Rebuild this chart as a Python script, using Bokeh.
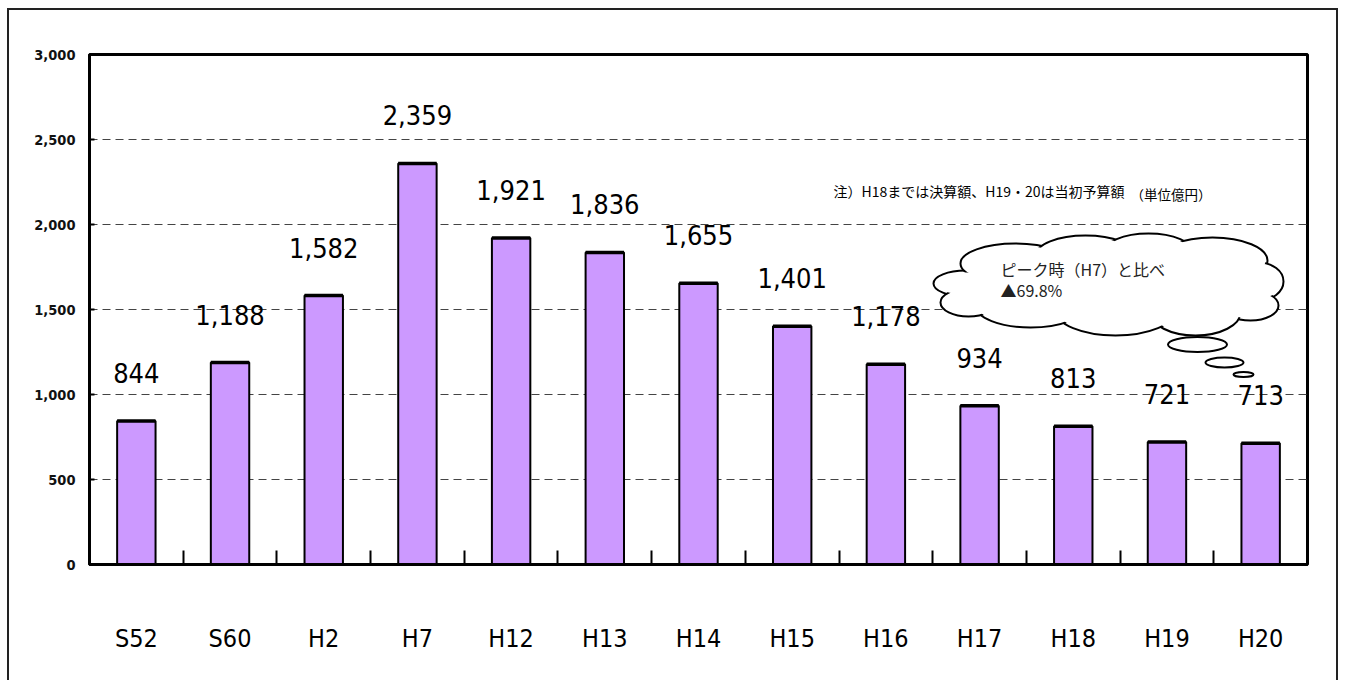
from bokeh.plotting import figure
from bokeh.models import Range1d, FixedTicker, NumeralTickFormatter, ColumnDataSource
from bokeh.core.properties import value
from bokeh.embed import file_html
from bokeh.resources import INLINE

# ---- data ----
categories = ["S52", "S60", "H2", "H7", "H12", "H13", "H14", "H15", "H16", "H17", "H18", "H19", "H20"]
amounts = [844, 1188, 1582, 2359, 1921, 1836, 1655, 1401, 1178, 934, 813, 721, 713]
y_ticks = [0, 500, 1000, 1500, 2000, 2500, 3000]
note_text = "注）H18までは決算額、H19・20は当初予算額"
unit_text = "（単位億円）"
cloud_lines = ["ピーク時（H7）と比べ", "▲69.8%"]

# ---- layout ----
PAGE_L, PAGE_T, BORDER = 7, 8, 2
W, H = 1331, 672
ML, MR, MT, MB = 80, 33, 44, 118
FW = W - ML - MR
FH = H - MT - MB
N = len(categories)
Y_MAX = 3000
FRAME_L = PAGE_L + BORDER + ML
FRAME_B = PAGE_T + BORDER + MT + FH

def px_x(px):
    return (px - FRAME_L) / FW * N

def px_y(py):
    return (FRAME_B - py) / FH * Y_MAX

NARROW = "DejaVu Sans Condensed"
JP = "Noto Sans CJK JP"

p = figure(width=W, height=H, output_backend="svg", toolbar_location=None,
           x_range=Range1d(0, N), y_range=Range1d(0, Y_MAX),
           min_border_left=ML, min_border_right=MR, min_border_top=MT, min_border_bottom=MB,
           background_fill_color="white", border_fill_color="white")
p.styles = {"margin-left": f"{PAGE_L}px", "margin-top": f"{PAGE_T}px",
            "border-top": "2px solid #222", "border-left": "2px solid #222",
            "border-right": "2px solid #222"}

p.outline_line_color = "black"
p.outline_line_width = 3

xs = [i + 0.5 for i in range(N)]
bar_w = 0.41
src = ColumnDataSource(dict(x=xs, top=amounts, cat=categories,
                            x0=[x - bar_w / 2 for x in xs], x1=[x + bar_w / 2 for x in xs],
                            label=[f"{v:,}" for v in amounts]))

# grid
p.xgrid.visible = False
p.ygrid.ticker = FixedTicker(ticks=y_ticks[1:-1])
p.ygrid.grid_line_color = "#444444"
p.ygrid.grid_line_dash = "8 5"
p.ygrid.grid_line_width = 1

# bars
p.vbar(x="x", top="top", bottom=0, width=bar_w, source=src,
       fill_color="#CC99FF", line_color="black", line_width=2)
p.segment(x0="x0", x1="x1", y0="top", y1="top", source=src, line_color="black", line_width=3.5)

# value labels
p.text(x="x", y="top", text="label", source=src, text_align="center", text_baseline="middle",
       y_offset=-48, text_font=value(NARROW), text_font_size="27px", text_color="black")

# x axis
xa = p.xaxis[0]
xa.ticker = FixedTicker(ticks=xs, minor_ticks=list(range(1, N)))
xa.major_label_overrides = {x: c for x, c in zip(xs, categories)}
xa.major_tick_line_color = None
xa.minor_tick_in = 14
xa.minor_tick_out = 0
xa.minor_tick_line_width = 2
xa.minor_tick_line_color = "black"
xa.axis_line_width = 3
xa.axis_line_color = "black"
xa.major_label_standoff = 53
xa.major_label_text_font = NARROW
xa.major_label_text_font_size = "25px"
xa.major_label_text_color = "black"

# y axis
ya = p.yaxis[0]
ya.ticker = FixedTicker(ticks=y_ticks)
ya.formatter = NumeralTickFormatter(format="0,0")
ya.axis_line_width = 3
ya.axis_line_color = "black"
ya.major_tick_in = 5
ya.major_tick_out = 0
ya.major_tick_line_width = 2
ya.major_tick_line_color = "black"
ya.minor_tick_line_color = None
ya.major_label_standoff = 14
ya.major_label_text_font = NARROW
ya.major_label_text_font_style = "bold"
ya.major_label_text_font_size = "14.5px"
ya.major_label_text_color = "#111111"

# note text
p.text(x=[px_x(833)], y=[px_y(190)], text=[note_text], text_baseline="middle", text_align="left",
       text_font=value(JP), text_font_size="14px", text_color="black")
p.text(x=[px_x(1130)], y=[px_y(193)], text=[unit_text], text_baseline="middle", text_align="left",
       text_font=value(JP), text_font_size="13.5px", text_color="black")

# cloud callout (page px: cx, cy, w, h)
cloud = [
    (965, 283, 64, 26), (1015, 263, 110, 40), (1085, 255, 100, 40), (1148, 252, 90, 38),
    (1212, 260, 110, 46), (1258, 281, 50, 38), (1250, 305, 56, 30), (1195, 312, 90, 46),
    (1115, 310, 120, 50), (1030, 305, 110, 44), (968, 302, 56, 28), (1110, 284, 280, 70),
]
cx = [px_x(c[0]) for c in cloud]
cy = [px_y(c[1]) for c in cloud]
p.ellipse(x=cx, y=cy, width=[c[2] for c in cloud], height=[c[3] for c in cloud],
          width_units="screen", height_units="screen",
          fill_color="white", line_color="black", line_width=2)
p.ellipse(x=cx, y=cy, width=[c[2] - 4 for c in cloud], height=[c[3] - 4 for c in cloud],
          width_units="screen", height_units="screen",
          fill_color="white", line_color=None)
bubbles = [(1197, 344, 59, 15), (1224, 362, 38, 10), (1243, 374, 20, 5)]
p.ellipse(x=[px_x(b[0]) for b in bubbles], y=[px_y(b[1]) for b in bubbles],
          width=[b[2] for b in bubbles], height=[b[3] for b in bubbles],
          width_units="screen", height_units="screen",
          fill_color="white", line_color="black", line_width=2)
p.text(x=[px_x(1000), px_x(1000)], y=[px_y(268), px_y(289)], text=cloud_lines,
       text_baseline="middle", text_align="left",
       text_font=value(JP), text_font_size="16px", text_color="#222222")

open("out.html", "w").write(file_html(p, INLINE))
